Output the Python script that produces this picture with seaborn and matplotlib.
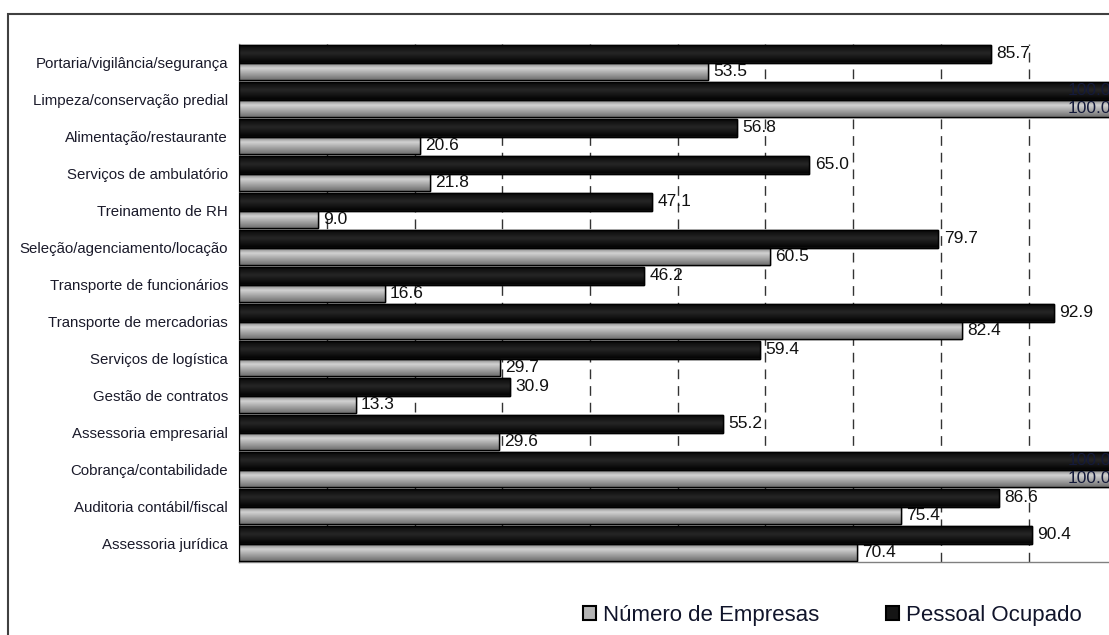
import numpy as np
import pandas as pd
import matplotlib
matplotlib.use("Agg")
import matplotlib.pyplot as plt
from matplotlib.patches import Rectangle, Patch
from matplotlib.colors import LinearSegmentedColormap
import seaborn as sns

# Categories (top to bottom) and percentage values per series
categorias = [
    "Portaria/vigilância/segurança",
    "Limpeza/conservação predial",
    "Alimentação/restaurante",
    "Serviços de ambulatório",
    "Treinamento de RH",
    "Seleção/agenciamento/locação",
    "Transporte de funcionários",
    "Transporte de mercadorias",
    "Serviços de logística",
    "Gestão de contratos",
    "Assessoria empresarial",
    "Cobrança/contabilidade",
    "Auditoria contábil/fiscal",
    "Assessoria jurídica",
]
pessoal_ocupado = [85.7, 100.0, 56.8, 65.0, 47.1, 79.7, 46.2, 92.9, 59.4, 30.9, 55.2, 100.0, 86.6, 90.4]
numero_empresas = [53.5, 100.0, 20.6, 21.8, 9.0, 60.5, 16.6, 82.4, 29.7, 13.3, 29.6, 100.0, 75.4, 70.4]
series = ["Pessoal Ocupado", "Número de Empresas"]
legenda = ["Número de Empresas", "Pessoal Ocupado"]

df = pd.DataFrame({
    "categoria": categorias * 2,
    "valor": pessoal_ocupado + numero_empresas,
    "serie": [series[0]] * len(categorias) + [series[1]] * len(categorias),
})

sns.set_style("white")
plt.rcParams["font.family"] = ["Liberation Sans", "DejaVu Sans"]

W, H = 1109, 635
fig = plt.figure(figsize=(W / 100, H / 100), dpi=100)
ax = fig.add_axes([239 / W, (H - 562) / H, (1116.5 - 239) / W, (562 - 44) / H])

cores = {"Pessoal Ocupado": "#151515", "Número de Empresas": "#a8a8a8"}
sns.barplot(
    data=df, y="categoria", x="valor", hue="serie", hue_order=series,
    palette=cores, orient="h", width=0.92, saturation=1,
    edgecolor="black", linewidth=1.0, legend=False, ax=ax, zorder=3,
)

# Cylinder-like shading inside each bar
cmap_preto = LinearSegmentedColormap.from_list("preto", ["#050505", "#262626", "#050505"])
cmap_cinza = LinearSegmentedColormap.from_list("cinza", ["#707070", "#d2d2d2", "#a0a0a0", "#707070"])
perfil = np.linspace(0, 1, 64)[:, None]
for cont, cmap in zip(ax.containers, [cmap_preto, cmap_cinza]):
    for bar in cont:
        x0, y0 = bar.get_x(), bar.get_y()
        w, h = bar.get_width(), bar.get_height()
        im = ax.imshow(perfil, cmap=cmap, extent=[x0, x0 + w, y0 + h, y0],
                       aspect="auto", interpolation="bilinear", zorder=3.1)
        im.set_clip_path(bar)
        bar.set_zorder(3.0)
        edge = Rectangle((x0, y0), w, h, fill=False, edgecolor="black",
                         linewidth=1.0, zorder=3.2)
        ax.add_patch(edge)

# Value labels
for cont, valores in zip(ax.containers, [pessoal_ocupado, numero_empresas]):
    for bar, v in zip(cont, valores):
        yc = bar.get_y() + bar.get_height() / 2
        if v >= 100:
            ax.text(v - 0.6, yc, f"{v:.1f}", ha="right", va="center",
                    fontsize=12.5, color="#141a3a", zorder=5, clip_on=False)
        else:
            ax.text(v + 0.6, yc, f"{v:.1f}", ha="left", va="center",
                    fontsize=12.5, color="#111111", zorder=5)

n = len(categorias)
ax.set_xlim(0, 100)
ax.set_ylim(n - 0.5, -0.5)
ax.set_xlabel("")
ax.set_ylabel("")

ax.set_xticks(np.arange(0, 101, 10))
ax.set_xticklabels([])
ax.set_yticks(range(n))
ax.set_yticklabels(categorias, fontsize=10.8, color="#1a1a2a")
ax.set_yticks(np.arange(-0.5, n, 1), minor=True)
ax.tick_params(axis="y", which="major", length=0, pad=8)
ax.tick_params(axis="y", which="minor", length=5, width=1, color="#707070", direction="out")
ax.tick_params(axis="x", which="major", length=5, width=1, color="#707070", direction="out")

ax.xaxis.grid(True, linestyle=(0, (7, 5)), color="#333333", linewidth=1.0, zorder=0)
ax.set_axisbelow(True)
for s in ["top", "right"]:
    ax.spines[s].set_visible(False)
for s in ["left", "bottom"]:
    ax.spines[s].set_color("#808080")
    ax.spines[s].set_linewidth(1.0)

# Outer frame
fig.add_artist(Rectangle((8 / W, -0.05), 1.2, 1 - 14 / H + 0.05, transform=fig.transFigure,
                         fill=False, edgecolor="#404040", linewidth=1.5))

# Legend
handles = [
    Patch(facecolor="#b4b4b4", edgecolor="black", linewidth=1.5),
    Patch(facecolor="#151515", edgecolor="black", linewidth=1.5),
]
fig.legend(handles, legenda, loc="center", bbox_to_anchor=(832 / W, (H - 615) / H),
           ncol=2, frameon=False, fontsize=16, handlelength=0.6, handleheight=0.6,
           handletextpad=0.3, columnspacing=3.0, labelcolor="#10142a")

fig.savefig("out.png", dpi=100)
